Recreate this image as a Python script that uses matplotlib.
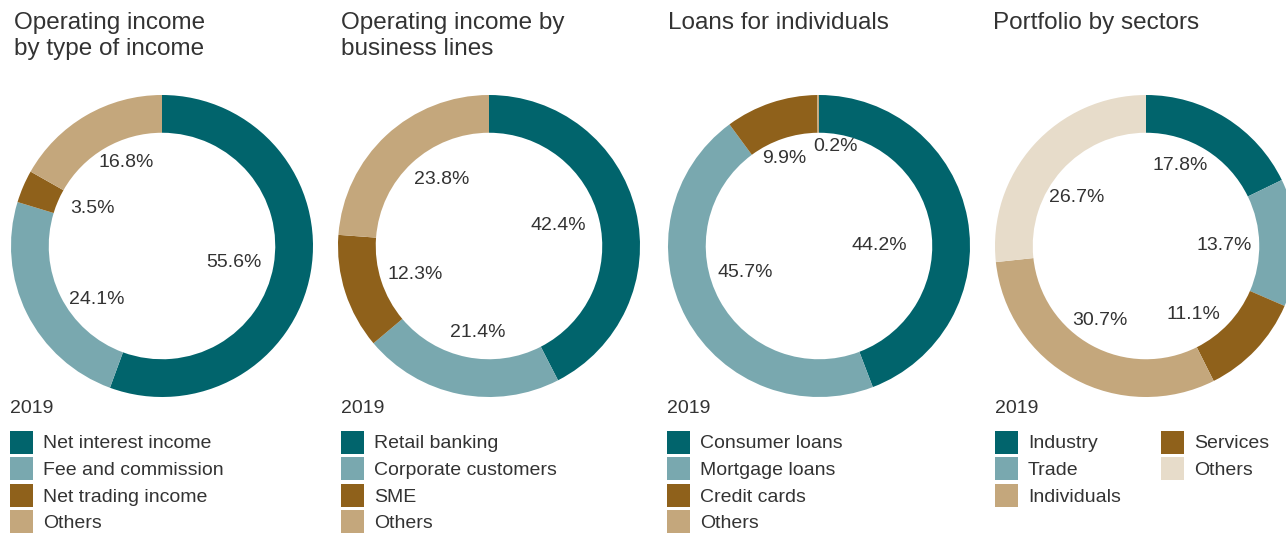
import numpy as np
import matplotlib
matplotlib.use("Agg")
import matplotlib.pyplot as plt
from matplotlib.patches import Rectangle

# ---- data -------------------------------------------------------------
titles = [
    ["Operating income", "by type of income"],
    ["Operating income by", "business lines"],
    ["Loans for individuals"],
    ["Portfolio by sectors"],
]
year_label = "2019"

income_type_labels = ["Net interest income", "Fee and commission", "Net trading income", "Others"]
income_type_values = [55.6, 24.1, 3.5, 16.8]

business_line_labels = ["Retail banking", "Corporate customers", "SME", "Others"]
business_line_values = [42.4, 21.4, 12.3, 23.8]

loans_labels = ["Consumer loans", "Mortgage loans", "Credit cards", "Others"]
loans_values = [44.2, 45.7, 9.9, 0.2]

sector_labels = ["Industry", "Trade", "Services", "Individuals", "Others"]
sector_values = [17.8, 13.7, 11.1, 30.7, 26.7]
# legend lists sectors column-wise in this order
sector_legend_order = [0, 1, 3, 2, 4]

# ---- style ------------------------------------------------------------
TEAL = "#01646C"
LTEAL = "#79A8AF"
BROWN = "#8F611B"
TAN = "#C4A77C"
BEIGE = "#E7DCCA"
TXT = "#333333"

plt.rcParams["font.family"] = ["Liberation Sans", "DejaVu Sans"]

W, H = 1286, 533
DPI = 100
fig = plt.figure(figsize=(W / DPI, H / DPI), dpi=DPI)
fig.patch.set_facecolor("white")


def fx(px):
    return px / W


def fy(py):
    return 1 - py / H


# label placement inside the hole: (radius fraction, angle nudge in degrees)
panels = [
    dict(values=income_type_values, labels=income_type_labels,
         colors=[TEAL, LTEAL, BROWN, TAN], cx=162, x0=10, tx=14,
         order=[0, 1, 2, 3], nrows=4,
         lab_pos=[(0.49, -3), (0.56, 13), (0.52, -5), (0.60, -7)]),
    dict(values=business_line_values, labels=business_line_labels,
         colors=[TEAL, LTEAL, BROWN, TAN], cx=489, x0=341, tx=341,
         order=[0, 1, 2, 3], nrows=4,
         lab_pos=[(0.48, 2.5), (0.58, 4), (0.52, 3), (0.54, -7)]),
    dict(values=loans_values, labels=loans_labels,
         colors=[TEAL, LTEAL, BROWN, TAN], cx=819, x0=667, tx=668,
         order=[0, 1, 2, 3], nrows=4,
         lab_pos=[(0.40, -10), (0.52, -9), (0.62, 3), (0.67, -9.5)]),
    dict(values=sector_values, labels=sector_labels,
         colors=[TEAL, LTEAL, BROWN, TAN, BEIGE], cx=1146, x0=995, tx=993,
         order=sector_legend_order, nrows=3,
         lab_pos=[(0.58, 9), (0.52, -1), (0.55, -12), (0.58, -3.5), (0.56, 7)]),
]

CY = 246       # donut centre (px from top)
R = 151        # outer radius in px
RING = 0.25    # ring width as fraction of radius
FS_TITLE = 17.5
FS_BODY = 14.0

for i, p in enumerate(panels):
    # title
    for k, line in enumerate(titles[i]):
        fig.text(fx(p["tx"]), fy(29 + 26.5 * k), line, fontsize=FS_TITLE,
                 color=TXT, ha="left", va="baseline")

    # donut
    ax = fig.add_axes([fx(p["cx"] - R), fy(CY + R), 2 * R / W, 2 * R / H])
    wedges, _ = ax.pie(p["values"], colors=p["colors"], startangle=90,
                       counterclock=False, radius=1.0,
                       wedgeprops=dict(width=RING, edgecolor="none", linewidth=0))
    ax.set_xlim(-1, 1)
    ax.set_ylim(-1, 1)
    ax.set_aspect("equal")
    ax.axis("off")

    # value labels inside the hole
    for w, v, (r, da) in zip(wedges, p["values"], p["lab_pos"]):
        mid = np.deg2rad((w.theta1 + w.theta2) / 2 + da)
        ax.text(r * np.cos(mid), r * np.sin(mid), f"{v:.1f}%",
                ha="center", va="center", fontsize=FS_BODY, color=TXT)

    # year + legend
    fig.text(fx(p["x0"]), fy(413), year_label, fontsize=FS_BODY, color=TXT,
             ha="left", va="baseline")
    for j, idx in enumerate(p["order"]):
        c, rr = divmod(j, p["nrows"])
        sx = p["x0"] + c * 166
        sy = 442 + rr * 26.6
        fig.add_artist(Rectangle((fx(sx), fy(sy + 11.5)), 23 / W, 23 / H,
                                 transform=fig.transFigure,
                                 facecolor=p["colors"][idx], edgecolor="none"))
        fig.text(fx(sx + 33), fy(sy + 6.5), p["labels"][idx], fontsize=FS_BODY,
                 color=TXT, ha="left", va="baseline")

fig.savefig("out.png", dpi=DPI, facecolor="white")
